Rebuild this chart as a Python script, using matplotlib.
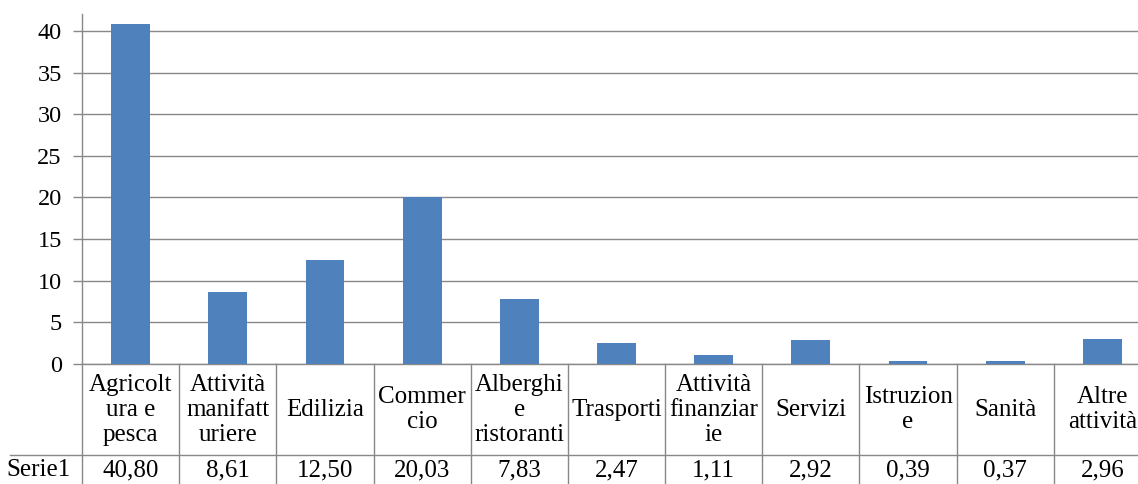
import matplotlib
matplotlib.use("Agg")
import matplotlib.pyplot as plt
import matplotlib.transforms as mtransforms

# dati
categorie = ["Agricolt\nura e\npesca", "Attività\nmanifatt\nuriere", "Edilizia",
             "Commer\ncio", "Alberghi\ne\nristoranti", "Trasporti",
             "Attività\nfinanziar\nie", "Servizi", "Istruzion\ne", "Sanità",
             "Altre\nattività"]
serie_nome = "Serie1"
valori = [40.80, 8.61, 12.50, 20.03, 7.83, 2.47, 1.11, 2.92, 0.39, 0.37, 2.96]
yticks = [0, 5, 10, 15, 20, 25, 30, 35, 40]

plt.rcParams['font.family'] = ['Liberation Serif', 'DejaVu Serif']
grigio = "#888888"

fig = plt.figure(figsize=(11.38, 4.84), dpi=100)
# area del grafico (si estende oltre il bordo destro come nell'originale)
ax = fig.add_axes([82 / 1138, 120 / 484, 1069 / 1138, 350 / 484])

x = list(range(len(valori)))
ax.bar(x, valori, width=0.4, color="#4F81BD", zorder=3)

ax.set_xlim(-0.5, len(valori) - 0.5)
ax.set_ylim(0, 42.04)
ax.set_yticks(yticks)
ax.set_yticklabels([str(v) for v in yticks], fontsize=17.5)
ax.set_xticks([])
ax.yaxis.grid(True, color=grigio, linewidth=1)
ax.set_axisbelow(True)
ax.tick_params(axis="y", length=6.5, width=1, color=grigio, pad=8)
for s in ["top", "right"]:
    ax.spines[s].set_visible(False)
for s in ["left", "bottom"]:
    ax.spines[s].set_color(grigio)
    ax.spines[s].set_linewidth(1)

# tabella dati sotto l'asse
trans = mtransforms.blended_transform_factory(ax.transData, ax.transAxes)
for i in range(len(valori) + 1):
    ax.plot([i - 0.5, i - 0.5], [0, -0.343], transform=trans, color=grigio,
            linewidth=1, clip_on=False)
ax.plot([-0.067, 1], [-0.26, -0.26], transform=ax.transAxes, color=grigio,
        linewidth=1, clip_on=False)

for i, (cat, v) in enumerate(zip(categorie, valori)):
    ax.text(i, -0.131, cat, transform=trans, ha="center", va="center",
            fontsize=18, linespacing=1.18, clip_on=False)
    ax.text(i, -0.303, f"{v:.2f}".replace(".", ","), transform=trans,
            ha="center", va="center", fontsize=18, clip_on=False)
ax.text(-0.041, -0.303, serie_nome, transform=ax.transAxes, ha="center",
        va="center", fontsize=18, clip_on=False)

fig.savefig("out.png", dpi=100)
